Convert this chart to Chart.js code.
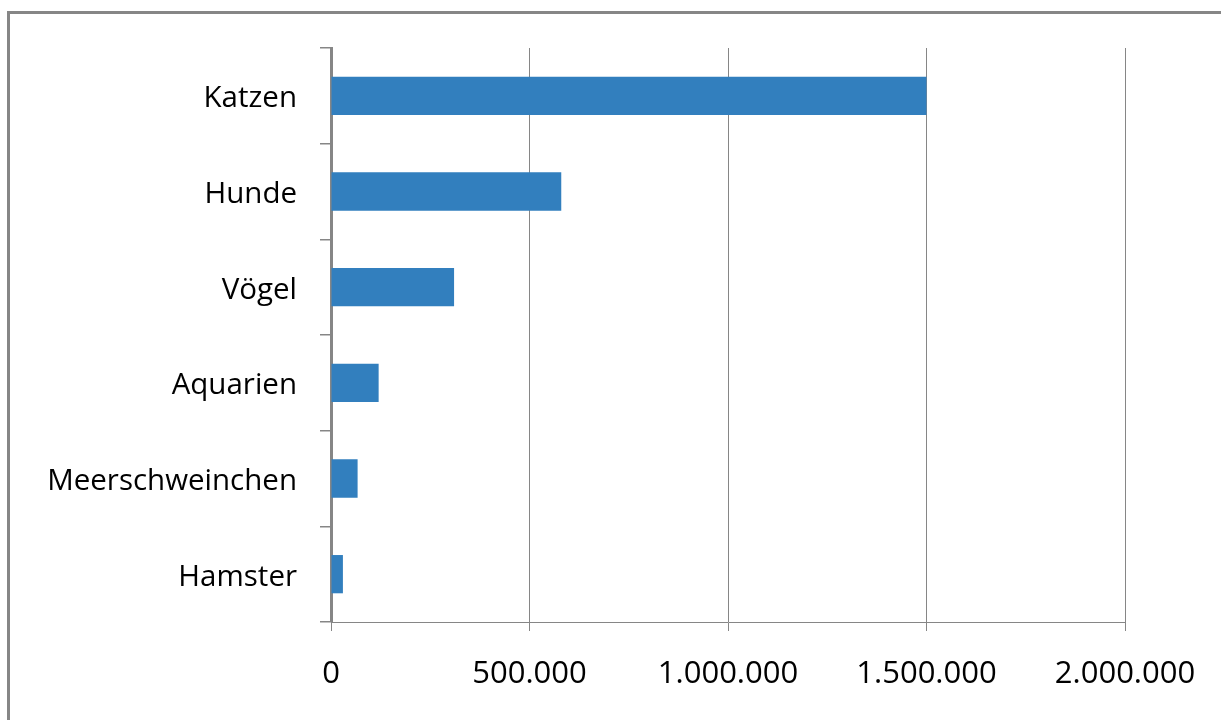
<!DOCTYPE html>
<html>
<head>
<meta charset="utf-8">
<script src="https://cdn.jsdelivr.net/npm/chart.js@4/dist/chart.umd.min.js"></script>
<style>
  html, body { margin: 0; padding: 0; background: #fff; overflow: hidden; }
  #wrap { position: relative; width: 1221px; height: 720px; }
  #frame { position: absolute; left: 7px; top: 11px; width: 1300px; height: 800px; border: 3px solid #868686; box-sizing: border-box; }
  canvas { position: absolute; left: 0; top: 0; }
</style>
</head>
<body>
<div id="wrap">
  <div id="frame"></div>
  <canvas id="c" width="1221" height="720"></canvas>
</div>
<script>
const categories = ["Katzen", "Hunde", "Vögel", "Aquarien", "Meerschweinchen", "Hamster"];
const values = [1500000, 580000, 310000, 120000, 67000, 30000];
const xTickLabels = ["0", "500.000", "1.000.000", "1.500.000", "2.000.000"];

const yFont = { family: "'Open Sans', sans-serif", size: 29.5 };
const xFont = { family: "'Open Sans', sans-serif", size: 31 };

new Chart(document.getElementById('c'), {
  type: 'bar',
  data: {
    labels: categories,
    datasets: [{
      data: values,
      backgroundColor: '#327FBE',
      borderWidth: 0,
      barPercentage: 0.4,
      categoryPercentage: 1.0
    }]
  },
  options: {
    indexAxis: 'y',
    responsive: false,
    animation: false,
    devicePixelRatio: 1,
    layout: { padding: { left: 0, right: 96, top: 48, bottom: 0 } },
    plugins: { legend: { display: false }, tooltip: { enabled: false } },
    scales: {
      x: {
        min: 0,
        max: 2000000,
        ticks: {
          stepSize: 500000,
          color: '#000',
          font: xFont,
          padding: 25,
          maxRotation: 0,
          callback: function (v, i) { return xTickLabels[i]; }
        },
        grid: { color: '#868686', lineWidth: 1, tickLength: 9, drawTicks: true },
        border: { color: '#868686', width: 1 },
        afterFit: function (s) { s.height = 98; }
      },
      y: {
        ticks: { color: '#000', font: yFont, padding: 23, labelOffset: 3 },
        grid: { drawOnChartArea: false, drawTicks: true, tickLength: 11, color: '#868686', lineWidth: 1.5, offset: true },
        border: { color: '#868686', width: 3 },
        afterFit: function (s) { s.width = 331; }
      }
    }
  }
});
</script>
</body>
</html>
